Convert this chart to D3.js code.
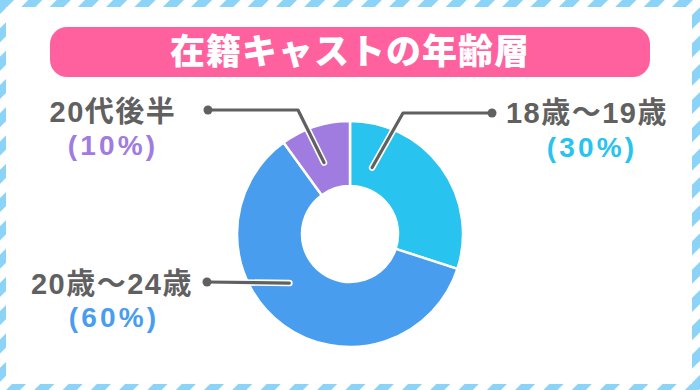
<!DOCTYPE html>
<html><head><meta charset="utf-8">
<script src="https://cdn.jsdelivr.net/npm/d3@7"></script>
<style>body{margin:0;background:#fff}</style></head>
<body><svg id="c" width="700" height="390"></svg>
<script>
const title = "在籍キャストの年齢層";
const categories = ["18歳〜19歳", "20歳〜24歳", "20代後半"];
const values = [30, 60, 10];
const colors = ["#29C3EF", "#489DEE", "#A07CE0"];

const W = 700, H = 390;
const svg = d3.select("#c");
const FONT = "'Noto Sans CJK JP','Noto Sans',sans-serif";
const LFONT = "'Liberation Sans','Noto Sans CJK JP',sans-serif";

// striped border
const defs = svg.append("defs");
const pat = defs.append("pattern").attr("id", "stripes")
  .attr("patternUnits", "userSpaceOnUse").attr("width", 20).attr("height", 20)
  .attr("patternTransform", "rotate(45)");
pat.append("rect").attr("width", 10).attr("height", 20).attr("fill", "#8CD4F7");
svg.append("rect").attr("width", W).attr("height", H).attr("fill", "#fff");
svg.append("rect").attr("width", W).attr("height", H).attr("fill", "url(#stripes)");
svg.append("rect").attr("x", 6).attr("y", 7).attr("width", 686).attr("height", 377).attr("fill", "#fff");

// title
svg.append("rect").attr("x", 50).attr("y", 27).attr("width", 600).attr("height", 50)
  .attr("rx", 17).attr("fill", "#FF619F");
svg.append("text").attr("x", 350).attr("y", 64).attr("text-anchor", "middle")
  .attr("font-family", FONT).attr("font-weight", 900).attr("font-size", 35)
  .attr("letter-spacing", 1).attr("fill", "#fff").text(title);

// donut
const cx = 350, cy = 234, R = 113, r0 = 48;
const g = svg.append("g").attr("transform", `translate(${cx},${cy})`);
const pie = d3.pie().sort(null).value(d => d)(values);
const arc = d3.arc().innerRadius(r0).outerRadius(R);
g.selectAll("path").data(pie).join("path")
  .attr("d", arc).attr("fill", (d, i) => colors[i])
  .attr("stroke", "#fff").attr("stroke-width", 2.5).attr("stroke-linejoin", "round");

// leader layout (angle in degrees from top, radius, elbow, dot, label pos)
const layout = [
  { a: 18.4, rr: 70, elbow: [403, 113], dot: [492, 113], lx: 587, ly: 123, px: 592, py: 157 },
  { a: 231, rr: 78, elbow: null, dot: [207, 282], lx: 112, ly: 294, px: 114, py: 327 },
  { a: -20, rr: 76, elbow: [298, 110], dot: [208, 110], lx: 113, ly: 122, px: 113, py: 155 }
];

categories.forEach((c, i) => {
  const L = layout[i];
  const p = d3.pointRadial(L.a * Math.PI / 180, L.rr);
  const pts = [[cx + p[0], cy + p[1]]];
  if (L.elbow) pts.push(L.elbow);
  pts.push(L.dot);
  const line = d3.line();
  svg.append("path").attr("d", line(pts)).attr("fill", "none")
    .attr("stroke", "#fff").attr("stroke-width", 6.5)
    .attr("stroke-linecap", "round").attr("stroke-linejoin", "round");
  svg.append("path").attr("d", line(pts)).attr("fill", "none")
    .attr("stroke", "#606060").attr("stroke-width", 3.2)
    .attr("stroke-linecap", "round").attr("stroke-linejoin", "round");
  svg.append("circle").attr("cx", L.dot[0]).attr("cy", L.dot[1]).attr("r", 4.5).attr("fill", "#606060");

  svg.append("text").attr("x", L.lx).attr("y", L.ly).attr("text-anchor", "middle")
    .attr("font-family", LFONT).attr("font-weight", 700).attr("font-size", 29)
    .attr("letter-spacing", 1.5).attr("fill", "#606060").text(c);
  svg.append("text").attr("x", L.px).attr("y", L.py).attr("text-anchor", "middle")
    .attr("font-family", LFONT).attr("font-weight", 700).attr("font-size", 28)
    .attr("letter-spacing", 3.2).attr("fill", colors[i]).text(`(${values[i]}%)`);
});
</script></body></html>
